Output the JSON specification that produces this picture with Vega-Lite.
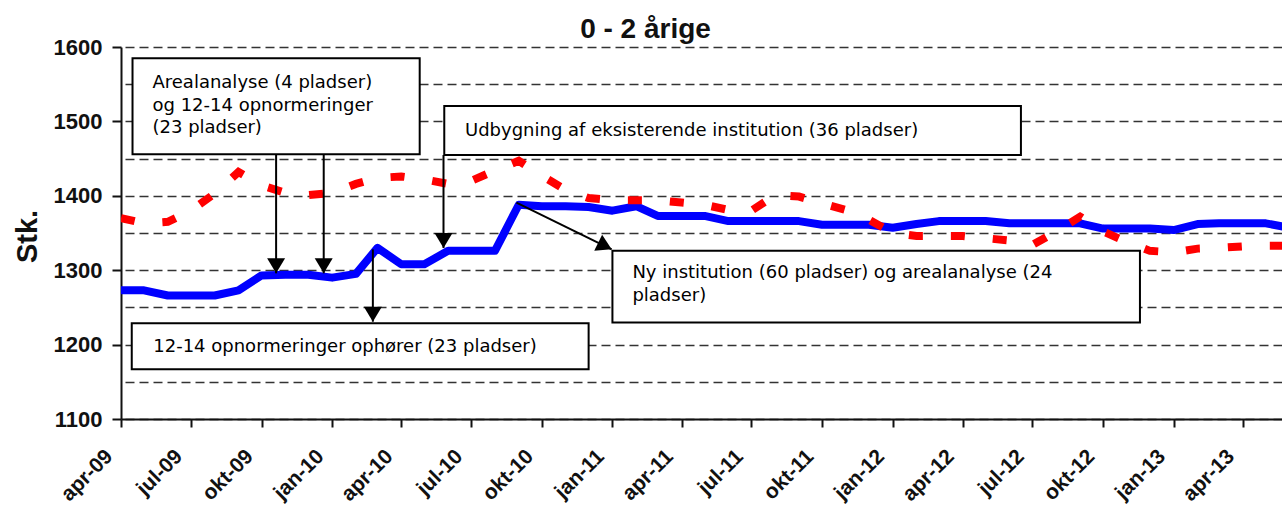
{
  "$schema": "https://vega.github.io/schema/vega-lite/v6.json",
  "width": 1161,
  "height": 372,
  "autosize": {"type": "none"},
  "padding": {"left": 121, "top": 47, "right": 0, "bottom": 89},
  "background": "white",
  "title": {"text": "0 - 2 årige", "font": "Liberation Sans", "fontSize": 28, "fontWeight": "bold", "color": "#111", "anchor": "middle", "frame": "group", "dx": -56, "dy": 33, "offset": 3, "baseline": "alphabetic"},
  "config": {"view": {"stroke": null}},
  "resolve": {"axis": {"y": "independent"}},
  "datasets": {
    "maaneder": [
      {"maaned": "2009-04-01", "kapacitet": 1273, "boern": 1370},
      {"maaned": "2009-05-01", "kapacitet": 1273, "boern": 1363},
      {"maaned": "2009-06-01", "kapacitet": 1266, "boern": 1365},
      {"maaned": "2009-07-01", "kapacitet": 1266, "boern": 1380},
      {"maaned": "2009-08-01", "kapacitet": 1266, "boern": 1403},
      {"maaned": "2009-09-01", "kapacitet": 1273, "boern": 1432},
      {"maaned": "2009-10-01", "kapacitet": 1293, "boern": 1414},
      {"maaned": "2009-11-01", "kapacitet": 1294, "boern": 1404},
      {"maaned": "2009-12-01", "kapacitet": 1294, "boern": 1401},
      {"maaned": "2010-01-01", "kapacitet": 1290, "boern": 1404},
      {"maaned": "2010-02-01", "kapacitet": 1295, "boern": 1416},
      {"maaned": "2010-03-01", "kapacitet": 1330, "boern": 1424},
      {"maaned": "2010-04-01", "kapacitet": 1308, "boern": 1426},
      {"maaned": "2010-05-01", "kapacitet": 1308, "boern": 1422},
      {"maaned": "2010-06-01", "kapacitet": 1326, "boern": 1416},
      {"maaned": "2010-07-01", "kapacitet": 1326, "boern": 1420},
      {"maaned": "2010-08-01", "kapacitet": 1326, "boern": 1434},
      {"maaned": "2010-09-01", "kapacitet": 1388, "boern": 1447},
      {"maaned": "2010-10-01", "kapacitet": 1386, "boern": 1427},
      {"maaned": "2010-11-01", "kapacitet": 1386, "boern": 1408},
      {"maaned": "2010-12-01", "kapacitet": 1385, "boern": 1397},
      {"maaned": "2011-01-01", "kapacitet": 1380, "boern": 1394},
      {"maaned": "2011-02-01", "kapacitet": 1386, "boern": 1394},
      {"maaned": "2011-03-01", "kapacitet": 1373, "boern": 1394},
      {"maaned": "2011-04-01", "kapacitet": 1373, "boern": 1391},
      {"maaned": "2011-05-01", "kapacitet": 1373, "boern": 1388},
      {"maaned": "2011-06-01", "kapacitet": 1366, "boern": 1381},
      {"maaned": "2011-07-01", "kapacitet": 1366, "boern": 1380},
      {"maaned": "2011-08-01", "kapacitet": 1366, "boern": 1401},
      {"maaned": "2011-09-01", "kapacitet": 1366, "boern": 1399},
      {"maaned": "2011-10-01", "kapacitet": 1361, "boern": 1390},
      {"maaned": "2011-11-01", "kapacitet": 1361, "boern": 1381},
      {"maaned": "2011-12-01", "kapacitet": 1361, "boern": 1368},
      {"maaned": "2012-01-01", "kapacitet": 1357, "boern": 1350},
      {"maaned": "2012-02-01", "kapacitet": 1362, "boern": 1346},
      {"maaned": "2012-03-01", "kapacitet": 1366, "boern": 1346},
      {"maaned": "2012-04-01", "kapacitet": 1366, "boern": 1346},
      {"maaned": "2012-05-01", "kapacitet": 1366, "boern": 1343},
      {"maaned": "2012-06-01", "kapacitet": 1363, "boern": 1340},
      {"maaned": "2012-07-01", "kapacitet": 1363, "boern": 1334},
      {"maaned": "2012-08-01", "kapacitet": 1363, "boern": 1352},
      {"maaned": "2012-09-01", "kapacitet": 1363, "boern": 1372},
      {"maaned": "2012-10-01", "kapacitet": 1356, "boern": 1352},
      {"maaned": "2012-11-01", "kapacitet": 1356, "boern": 1338},
      {"maaned": "2012-12-01", "kapacitet": 1356, "boern": 1326},
      {"maaned": "2013-01-01", "kapacitet": 1354, "boern": 1324},
      {"maaned": "2013-02-01", "kapacitet": 1362, "boern": 1329},
      {"maaned": "2013-03-01", "kapacitet": 1363, "boern": 1330},
      {"maaned": "2013-04-01", "kapacitet": 1363, "boern": 1332},
      {"maaned": "2013-05-01", "kapacitet": 1363, "boern": 1333},
      {"maaned": "2013-06-01", "kapacitet": 1357, "boern": 1333}
    ],
    "bokse": [
      {"x1": "2009-04-16", "x2": "2010-04-25", "y1": 1584.8, "y2": 1455.8},
      {"x1": "2010-05-27", "x2": "2012-06-16", "y1": 1520.7, "y2": 1454.8},
      {"x1": "2011-01-01", "x2": "2012-11-18", "y1": 1326.2, "y2": 1229.7},
      {"x1": "2009-04-15", "x2": "2010-12-01", "y1": 1228.6, "y2": 1166.8}
    ],
    "tekster": [
      {"x": "2009-05-12", "y": 1544.5, "tekst": ["Arealanalyse (4 pladser)", "og 12-14 opnormeringer", "(23 pladser)"]},
      {"x": "2010-06-23", "y": 1480.4, "tekst": ["Udbygning af eksisterende institution (36 pladser)"]},
      {"x": "2011-01-27", "y": 1289.1, "tekst": ["Ny institution (60 pladser) og arealanalyse (24", "pladser)"]},
      {"x": "2009-05-13", "y": 1190.5, "tekst": ["12-14 opnormeringer ophører (23 pladser)"]}
    ],
    "lodrette_pile": [
      {"x": "2009-10-20", "y1": 1455.8, "y2": 1295.8},
      {"x": "2009-12-21", "y1": 1455.8, "y2": 1295.8},
      {"x": "2010-02-23", "y1": 1328, "y2": 1230.8},
      {"x": "2010-05-26", "y1": 1454.8, "y2": 1329.8}
    ],
    "skraa_pil": [
      {"x1": "2010-08-29", "y1": 1390.7, "x2": "2010-12-31", "y2": 1328.1}
    ]
  },
  "layer": [
    {
      "data": {"name": "maaneder"},
      "mark": {"type": "line", "color": "#0000ff", "strokeWidth": 8, "clip": true, "strokeJoin": "round"},
      "encoding": {
        "x": {
          "field": "maaned", "type": "temporal",
          "scale": {"type": "utc", "domain": [{"year": 2009, "month": 4, "date": 1, "utc": true}, {"year": 2013, "month": 5, "date": 22, "utc": true}]},
          "axis": {
            "title": null,
            "grid": false,
            "tickCount": {"interval": "month", "step": 3},
            "labelExpr": "['jan','feb','mar','apr','maj','jun','jul','aug','sep','okt','nov','dec'][utcmonth(datum.value)] + '-' + utcFormat(datum.value, '%y')",
            "labelAngle": -45,
            "labelAlign": "right",
            "labelBaseline": "middle",
            "labelOffset": -12,
            "labelPadding": 26,
            "labelFlush": false,
            "labelOverlap": false,
            "labelFont": "Liberation Sans",
            "labelFontSize": 21,
            "labelFontWeight": "bold",
            "labelColor": "#111",
            "tickSize": 8,
            "tickWidth": 2,
            "tickColor": "#111",
            "domainColor": "#111",
            "domainWidth": 2
          }
        },
        "y": {
          "field": "kapacitet", "type": "quantitative",
          "scale": {"domain": [1100, 1600], "nice": false, "zero": false},
          "axis": {
            "values": [1100, 1200, 1300, 1400, 1500, 1600],
            "format": "d",
            "tickSize": 9,
            "tickWidth": 2,
            "tickColor": "#111",
            "domainColor": "#111",
            "domainWidth": 2,
            "grid": false,
            "labelFont": "Liberation Sans",
            "labelFontSize": 22,
            "labelFontWeight": "bold",
            "labelColor": "#111",
            "labelPadding": 10,
            "title": "Stk.",
            "titleFont": "Liberation Sans",
            "titleFontSize": 29,
            "titleFontWeight": "bold",
            "titleColor": "#111",
            "titleAngle": 270,
            "titleX": -85,
            "titleY": 189,
            "titleAlign": "center",
            "titleBaseline": "alphabetic"
          }
        }
      }
    },
    {
      "data": {"name": "maaneder"},
      "mark": {"type": "line", "color": "#ff0000", "strokeWidth": 8, "strokeDash": [14, 28], "strokeCap": "butt", "clip": true},
      "encoding": {
        "x": {"field": "maaned", "type": "temporal", "scale": {"type": "utc", "domain": [{"year": 2009, "month": 4, "date": 1, "utc": true}, {"year": 2013, "month": 5, "date": 22, "utc": true}]}},
        "y": {
          "field": "boern", "type": "quantitative",
          "scale": {"domain": [1100, 1600], "nice": false, "zero": false},
          "axis": {
            "orient": "right",
            "values": [1100, 1150, 1200, 1250, 1300, 1350, 1400, 1450, 1500, 1550, 1600],
            "grid": true,
            "gridColor": "#333",
            "gridDash": [9, 5],
            "gridWidth": 1.5,
            "gridOpacity": 1,
            "labels": false,
            "ticks": false,
            "domain": false,
            "title": null
          }
        }
      }
    },
    {
      "data": {"name": "bokse"},
      "mark": {"type": "rect", "fill": "white", "stroke": "black", "strokeWidth": 2},
      "encoding": {
        "x": {"field": "x1", "type": "temporal", "scale": {"type": "utc", "domain": [{"year": 2009, "month": 4, "date": 1, "utc": true}, {"year": 2013, "month": 5, "date": 22, "utc": true}]}},
        "x2": {"field": "x2"},
        "y": {"field": "y1", "type": "quantitative", "scale": {"domain": [1100, 1600], "nice": false, "zero": false}, "axis": null},
        "y2": {"field": "y2"}
      }
    },
    {
      "data": {"name": "lodrette_pile"},
      "mark": {"type": "rule", "color": "black", "strokeWidth": 2},
      "encoding": {
        "x": {"field": "x", "type": "temporal", "scale": {"type": "utc", "domain": [{"year": 2009, "month": 4, "date": 1, "utc": true}, {"year": 2013, "month": 5, "date": 22, "utc": true}]}},
        "y": {"field": "y1", "type": "quantitative", "scale": {"domain": [1100, 1600], "nice": false, "zero": false}, "axis": null},
        "y2": {"field": "y2"}
      }
    },
    {
      "data": {"name": "lodrette_pile"},
      "mark": {"type": "point", "shape": "M-0.6,-1L0.6,-1L0,0Z", "size": 900, "filled": true, "color": "black", "opacity": 1, "strokeWidth": 0},
      "encoding": {
        "x": {"field": "x", "type": "temporal", "scale": {"type": "utc", "domain": [{"year": 2009, "month": 4, "date": 1, "utc": true}, {"year": 2013, "month": 5, "date": 22, "utc": true}]}},
        "y": {"field": "y2", "type": "quantitative", "scale": {"domain": [1100, 1600], "nice": false, "zero": false}, "axis": null}
      }
    },
    {
      "data": {"name": "skraa_pil"},
      "mark": {"type": "rule", "color": "black", "strokeWidth": 2},
      "encoding": {
        "x": {"field": "x1", "type": "temporal", "scale": {"type": "utc", "domain": [{"year": 2009, "month": 4, "date": 1, "utc": true}, {"year": 2013, "month": 5, "date": 22, "utc": true}]}},
        "x2": {"field": "x2"},
        "y": {"field": "y1", "type": "quantitative", "scale": {"domain": [1100, 1600], "nice": false, "zero": false}, "axis": null},
        "y2": {"field": "y2"}
      }
    },
    {
      "data": {"name": "skraa_pil"},
      "mark": {"type": "point", "shape": "M-0.6,-1L0.6,-1L0,0Z", "size": 900, "filled": true, "color": "black", "opacity": 1, "strokeWidth": 0, "angle": 296},
      "encoding": {
        "x": {"field": "x2", "type": "temporal", "scale": {"type": "utc", "domain": [{"year": 2009, "month": 4, "date": 1, "utc": true}, {"year": 2013, "month": 5, "date": 22, "utc": true}]}},
        "y": {"field": "y2", "type": "quantitative", "scale": {"domain": [1100, 1600], "nice": false, "zero": false}, "axis": null}
      }
    },
    {
      "data": {"name": "tekster"},
      "mark": {"type": "text", "align": "left", "baseline": "alphabetic", "font": "DejaVu Sans", "fontSize": 18, "lineHeight": 22.5, "color": "black"},
      "encoding": {
        "x": {"field": "x", "type": "temporal", "scale": {"type": "utc", "domain": [{"year": 2009, "month": 4, "date": 1, "utc": true}, {"year": 2013, "month": 5, "date": 22, "utc": true}]}},
        "y": {"field": "y", "type": "quantitative", "scale": {"domain": [1100, 1600], "nice": false, "zero": false}, "axis": null},
        "text": {"field": "tekst", "type": "nominal"}
      }
    }
  ]
}
